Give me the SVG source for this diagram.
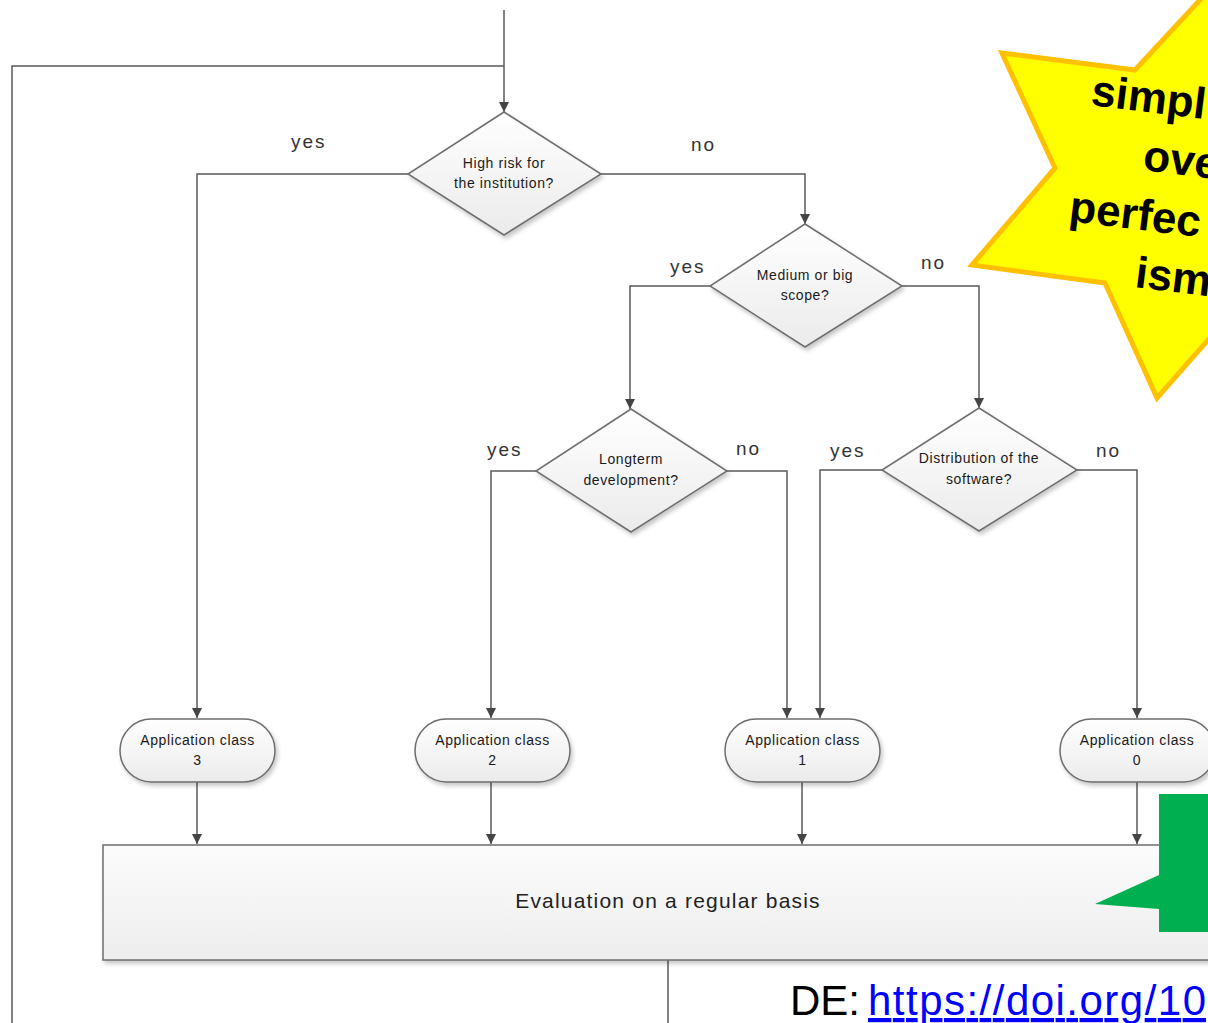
<svg xmlns="http://www.w3.org/2000/svg" width="1208" height="1023" viewBox="0 0 1208 1023">
<style>
.ln{fill:none;stroke:#5a5a5a;stroke-width:1.5}
.dia{fill:url(#gDia);stroke:#6e6e6e;stroke-width:1.5}
.term{fill:url(#gDia);stroke:#6e6e6e;stroke-width:1.5}
.t{font-family:"Liberation Sans",Arial,sans-serif;font-size:14px;fill:#1a1a1a;text-anchor:middle;letter-spacing:0.6px}
.lab{font-family:"Liberation Sans",Arial,sans-serif;font-size:19px;fill:#333;letter-spacing:2px}
.star{font-family:"Liberation Sans",Arial,sans-serif;font-size:44px;font-weight:bold;fill:#000}
</style>
<defs>
<linearGradient id="gDia" x1="0" y1="0" x2="0" y2="1"><stop offset="0" stop-color="#ffffff"/><stop offset="1" stop-color="#ebebeb"/></linearGradient>
<linearGradient id="gBox" x1="0" y1="0" x2="0" y2="1"><stop offset="0" stop-color="#fcfcfc"/><stop offset="1" stop-color="#ededed"/></linearGradient>
<filter id="sh" x="-10%" y="-10%" width="130%" height="140%"><feDropShadow dx="2" dy="3" stdDeviation="2" flood-color="#000" flood-opacity="0.22"/></filter>
<marker id="ar" viewBox="0 0 10 10" refX="10" refY="5" markerWidth="10" markerHeight="10" markerUnits="userSpaceOnUse" orient="auto"><path d="M0,0 L10,5 L0,10 z" fill="#444"/></marker>
</defs>
<rect width="1208" height="1023" fill="#fff"/>

<g id="connectors">
<path class="ln" d="M504,10 V112" marker-end="url(#ar)"/>
<path class="ln" d="M12,1023 V66 H504"/>
<path class="ln" d="M408,174 H197 V718" marker-end="url(#ar)"/>
<path class="ln" d="M601,174 H805 V224" marker-end="url(#ar)"/>
<path class="ln" d="M710,286 H630 V409" marker-end="url(#ar)"/>
<path class="ln" d="M902,286 H979 V408" marker-end="url(#ar)"/>
<path class="ln" d="M536,471 H491 V718" marker-end="url(#ar)"/>
<path class="ln" d="M727,471 H787 V718" marker-end="url(#ar)"/>
<path class="ln" d="M882,470 H820 V718" marker-end="url(#ar)"/>
<path class="ln" d="M1077,470 H1137 V718" marker-end="url(#ar)"/>
<path class="ln" d="M197,782 V844" marker-end="url(#ar)"/>
<path class="ln" d="M491,782 V844" marker-end="url(#ar)"/>
<path class="ln" d="M802,782 V844" marker-end="url(#ar)"/>
<path class="ln" d="M1137,782 V844" marker-end="url(#ar)"/>
<path class="ln" d="M668,960 V1023"/>
<text class="lab" x="291" y="148">yes</text>
<text class="lab" x="691" y="151">no</text>
<text class="lab" x="670" y="273">yes</text>
<text class="lab" x="921" y="269">no</text>
<text class="lab" x="487" y="456">yes</text>
<text class="lab" x="736" y="455">no</text>
<text class="lab" x="830" y="457">yes</text>
<text class="lab" x="1096" y="457">no</text>
</g>

<g id="d1">
<polygon class="dia" filter="url(#sh)" points="504,112 601,174 504,235 408,174"/>
<text class="t" x="504" y="168">High risk for</text>
<text class="t" x="504" y="188">the institution?</text>
</g>
<g id="d2">
<polygon class="dia" filter="url(#sh)" points="805,224 902,286 805,347 710,286"/>
<text class="t" x="805" y="280">Medium or big</text>
<text class="t" x="805" y="300">scope?</text>
</g>
<g id="d3">
<polygon class="dia" filter="url(#sh)" points="631,409 727,471 631,532 536,471"/>
<text class="t" x="631" y="464">Longterm</text>
<text class="t" x="631" y="485">development?</text>
</g>
<g id="d4">
<polygon class="dia" filter="url(#sh)" points="979,408 1077,470 979,531 882,470"/>
<text class="t" x="979" y="463">Distribution of the</text>
<text class="t" x="979" y="484">software?</text>
</g>

<g id="c3">
<rect class="term" filter="url(#sh)" x="120" y="719" width="155" height="63" rx="31.5"/>
<text class="t" x="197.5" y="745">Application class</text>
<text class="t" x="197.5" y="765">3</text>
</g>
<g id="c2">
<rect class="term" filter="url(#sh)" x="415" y="719" width="155" height="63" rx="31.5"/>
<text class="t" x="492.5" y="745">Application class</text>
<text class="t" x="492.5" y="765">2</text>
</g>
<g id="c1">
<rect class="term" filter="url(#sh)" x="725" y="719" width="155" height="63" rx="31.5"/>
<text class="t" x="802.5" y="745">Application class</text>
<text class="t" x="802.5" y="765">1</text>
</g>
<g id="c0">
<rect class="term" filter="url(#sh)" x="1060" y="719" width="155" height="63" rx="31.5"/>
<text class="t" x="1137" y="745">Application class</text>
<text class="t" x="1137" y="765">0</text>
</g>

<g id="eval">
<rect x="103" y="845" width="1130" height="115" fill="url(#gBox)" stroke="#6e6e6e" stroke-width="1.5" filter="url(#sh)"/>
<text x="668" y="908" text-anchor="middle" font-family="Liberation Sans, Arial, sans-serif" font-size="21" letter-spacing="1.2" fill="#222">Evaluation on a regular basis</text>
</g>

<g id="callout">
<path d="M1159,794 H1230 V932 H1159 V909 L1095,904 L1159,875 Z" fill="#00B050"/>
</g>

<g id="star">
<polygon points="1225,-27 1135,70 1002,53 1055,168 972,265 1105,283 1157,398 1230,315 1338,316 1287,201 1367,105 1243,92" fill="#FFFF00" stroke="#FFC000" stroke-width="5" stroke-linejoin="miter"/>
<text class="star" x="1090" y="105" transform="rotate(7 1090 105)">simpl</text>
<text class="star" x="1142" y="170" transform="rotate(7 1142 170)">ove</text>
<text class="star" x="1068" y="221" transform="rotate(7 1068 221)">perfec</text>
<text class="star" x="1134" y="287" transform="rotate(7 1134 287)">ism</text>
</g>

<g id="ref">
<text x="790" y="1015" font-family="Liberation Sans, Arial, sans-serif" font-size="42" fill="#000">DE: <tspan x="868" fill="#0000FF" text-decoration="underline" textLength="338">https://doi.org/10</tspan></text>
</g>
</svg>
